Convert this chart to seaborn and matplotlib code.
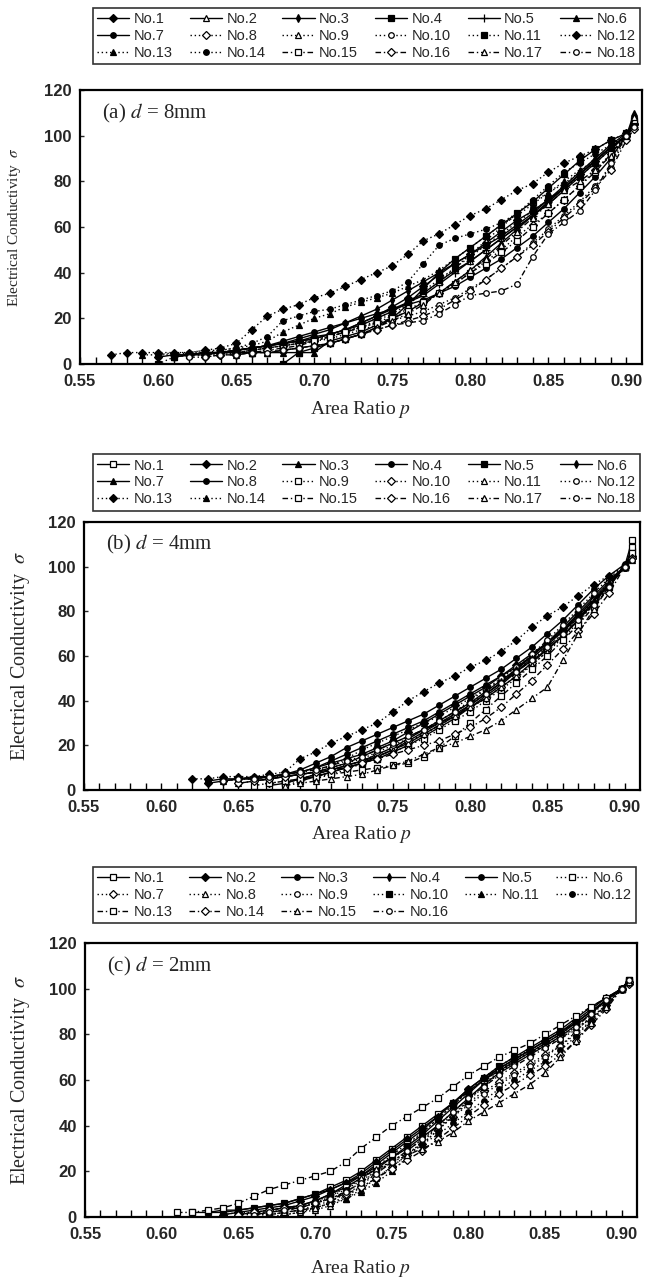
import matplotlib
matplotlib.use("Agg")
import matplotlib.pyplot as plt
import seaborn as sns
import pandas as pd
import numpy as np

sns.set_theme(style="white")
plt.rcParams["font.family"] = ["Liberation Sans Narrow", "Liberation Sans", "DejaVu Sans"]
plt.rcParams["mathtext.fontset"] = "stix"
SERIF = ["Liberation Serif", "DejaVu Serif"]

# ---- area ratio grids (x values) for each panel ----
p_a = [0.57, 0.58, 0.59, 0.60, 0.61, 0.62, 0.63, 0.64, 0.65, 0.66, 0.67, 0.68,
       0.69, 0.70, 0.71, 0.72, 0.73, 0.74, 0.75, 0.76, 0.77, 0.78, 0.79, 0.80,
       0.81, 0.82, 0.83, 0.84, 0.85, 0.86, 0.87, 0.88, 0.89, 0.90, 0.905]
p_b = p_a[5:]
p_c = p_a[4:]

# ---- (a) d = 8mm : conductivity, series end at p = 0.905 ----
a1 = [3, 4, 4, 5, 5, 6, 7, 8, 9, 10, 12, 13, 15, 18, 21, 25, 29, 34, 39, 44, 48, 53, 58, 63, 67, 72, 77, 83, 89, 95, 100, 105]
a2 = [3, 4, 4, 5, 6, 7, 8, 9, 10, 11, 13, 15, 17, 20, 23, 27, 31, 36, 41, 45, 50, 55, 60, 65, 70, 76, 82, 88, 94, 100, 106]
a3 = [3, 4, 5, 5, 6, 7, 8, 9, 11, 13, 15, 18, 21, 24, 28, 32, 36, 40, 44, 48, 52, 56, 61, 66, 72, 78, 84, 90, 96, 101, 104]
a4 = [0, 5, 7, 9, 11, 13, 16, 20, 26, 33, 40, 46, 51, 56, 61, 66, 71, 77, 83, 89, 94, 98, 101, 106]
a5 = [4, 4, 5, 5, 6, 7, 8, 9, 10, 11, 13, 15, 18, 21, 24, 27, 30, 35, 40, 45, 50, 55, 60, 65, 71, 77, 83, 89, 95, 100, 104]
a6 = [5, 5, 5, 5, 5, 5, 5, 10, 12, 14, 17, 20, 23, 27, 31, 36, 41, 47, 53, 59, 65, 71, 77, 83, 89, 95, 100, 110]
a7 = [4, 5, 5, 6, 7, 8, 10, 12, 14, 16, 18, 20, 22, 24, 26, 28, 31, 34, 38, 42, 46, 51, 56, 62, 68, 75, 82, 90, 100, 106]
a8 = [4, 4, 5, 6, 7, 8, 9, 10, 12, 14, 16, 18, 21, 24, 27, 31, 35, 40, 45, 50, 56, 61, 66, 72, 78, 85, 92, 100, 105]
a9 = [4, 4, 5, 5, 6, 7, 8, 9, 10, 12, 14, 16, 19, 22, 26, 31, 36, 42, 48, 54, 60, 66, 71, 75, 79, 84, 89, 95, 100, 104]
a10 = [5, 5, 6, 7, 8, 9, 10, 11, 13, 15, 17, 19, 21, 23, 26, 29, 33, 37, 42, 47, 53, 59, 65, 71, 78, 86, 100, 104]
a11 = [0, 3, 4, 4, 5, 5, 6, 7, 8, 9, 11, 12, 14, 17, 20, 23, 27, 32, 37, 42, 47, 52, 57, 62, 67, 72, 77, 82, 88, 94, 100, 105]
a12 = [4, 5, 5, 5, 5, 5, 6, 7, 9, 15, 21, 24, 26, 29, 31, 34, 37, 40, 43, 48, 54, 57, 61, 65, 68, 72, 76, 79, 84, 88, 91, 94, 98, 101, 105]
a13 = [4, 4, 5, 5, 6, 6, 7, 8, 10, 14, 17, 20, 22, 25, 27, 29, 31, 34, 37, 41, 46, 51, 56, 61, 65, 70, 75, 80, 85, 89, 94, 100, 104]
a14 = [4, 4, 5, 5, 6, 7, 9, 12, 19, 21, 23, 24, 26, 28, 30, 32, 36, 44, 52, 55, 57, 59, 62, 66, 72, 78, 84, 88, 92, 96, 100, 104]
a15 = [5, 6, 7, 8, 10, 12, 14, 16, 18, 20, 23, 27, 31, 35, 40, 44, 49, 54, 60, 66, 72, 78, 84, 92, 100, 107]
a16 = [3, 4, 4, 5, 6, 6, 7, 8, 9, 11, 13, 15, 17, 19, 21, 24, 28, 32, 37, 42, 47, 52, 58, 64, 70, 77, 85, 98, 103]
a17 = [4, 5, 5, 6, 7, 8, 9, 11, 13, 16, 19, 22, 26, 31, 36, 41, 46, 52, 58, 64, 70, 76, 80, 85, 91, 100, 108]
a18 = [3, 3, 4, 4, 5, 5, 6, 7, 8, 9, 11, 13, 15, 17, 18, 19, 22, 26, 30, 31, 32, 35, 47, 57, 62, 67, 76, 88, 100, 104]
sig_a = [a1, a2, a3, a4, a5, a6, a7, a8, a9, a10, a11, a12, a13, a14, a15, a16, a17, a18]

# ---- (b) d = 4mm ----
b1 = [2, 3, 5, 6, 8, 10, 12, 14, 17, 20, 24, 28, 32, 37, 42, 47, 53, 59, 65, 71, 78, 85, 92, 100, 112]
b2 = [3, 4, 5, 5, 6, 7, 8, 10, 12, 14, 16, 19, 22, 26, 30, 34, 38, 42, 46, 51, 56, 61, 66, 71, 77, 84, 92, 100, 105]
b3 = [3, 4, 5, 6, 7, 8, 10, 12, 15, 18, 21, 24, 27, 30, 33, 37, 41, 46, 51, 57, 63, 69, 76, 84, 92, 100, 104]
b4 = [4, 5, 5, 6, 7, 8, 10, 13, 16, 19, 22, 25, 28, 31, 35, 39, 43, 47, 51, 55, 60, 66, 72, 78, 85, 92, 100, 104]
b5 = [3, 5, 7, 9, 11, 13, 15, 18, 22, 26, 30, 34, 38, 43, 48, 54, 60, 66, 72, 79, 86, 93, 100, 107]
b6 = [4, 5, 6, 7, 8, 9, 11, 13, 16, 19, 23, 27, 31, 35, 39, 44, 49, 54, 60, 66, 73, 80, 87, 94, 100, 104]
b7 = [4, 6, 8, 10, 12, 15, 18, 21, 25, 29, 33, 38, 43, 48, 53, 58, 63, 69, 76, 84, 92, 100, 105]
b8 = [4, 5, 5, 6, 6, 7, 9, 12, 15, 19, 22, 25, 28, 31, 34, 38, 42, 46, 50, 54, 59, 64, 70, 76, 83, 90, 96, 101, 106]
b9 = [2, 4, 6, 8, 10, 12, 14, 17, 20, 23, 27, 31, 35, 40, 45, 50, 56, 62, 69, 76, 84, 92, 100, 109]
b10 = [3, 4, 5, 7, 9, 11, 13, 16, 19, 22, 25, 29, 33, 37, 41, 46, 51, 57, 63, 70, 77, 85, 93, 100, 104]
b11 = [5, 7, 9, 12, 15, 18, 21, 25, 29, 33, 37, 41, 46, 51, 56, 62, 68, 75, 83, 92, 100, 103]
b12 = [4, 5, 6, 7, 8, 10, 12, 14, 17, 20, 23, 27, 31, 35, 40, 45, 50, 55, 61, 67, 74, 81, 88, 95, 100, 105]
b13 = [5, 5, 6, 6, 6, 7, 8, 14, 17, 21, 24, 27, 30, 35, 40, 44, 48, 51, 55, 58, 62, 67, 73, 78, 82, 87, 92, 96, 100, 104]
b14 = [4, 5, 5, 6, 6, 7, 8, 11, 14, 18, 21, 24, 27, 30, 33, 37, 41, 45, 49, 54, 59, 65, 71, 78, 85, 93, 100, 104]
b15 = [2, 3, 4, 5, 6, 7, 8, 9, 10, 11, 12, 15, 19, 24, 30, 36, 42, 48, 54, 60, 67, 74, 82, 91, 100, 106]
b16 = [3, 4, 5, 6, 7, 8, 9, 10, 12, 14, 16, 18, 20, 22, 25, 28, 32, 37, 43, 49, 56, 63, 71, 79, 88, 100, 104]
b17 = [2, 3, 4, 5, 6, 7, 9, 11, 13, 16, 19, 21, 24, 27, 31, 36, 41, 46, 58, 70, 81, 91, 100, 104]
b18 = [4, 5, 5, 6, 7, 8, 9, 11, 13, 15, 18, 21, 24, 27, 31, 35, 39, 43, 48, 53, 58, 64, 70, 76, 83, 91, 100, 103]
sig_b = [b1, b2, b3, b4, b5, b6, b7, b8, b9, b10, b11, b12, b13, b14, b15, b16, b17, b18]

# ---- (c) d = 2mm ----
c1 = [2, 2, 3, 3, 4, 5, 6, 8, 10, 13, 16, 20, 25, 30, 35, 40, 45, 50, 55, 60, 64, 68, 72, 76, 80, 85, 90, 95, 100, 104]
c2 = [1, 2, 3, 4, 5, 7, 9, 12, 15, 19, 24, 29, 34, 39, 44, 50, 56, 61, 65, 69, 73, 77, 81, 86, 91, 96, 100, 103]
c3 = [1, 2, 3, 4, 5, 7, 10, 14, 18, 23, 28, 33, 38, 44, 50, 56, 61, 66, 70, 74, 78, 82, 87, 92, 96, 100, 104]
c4 = [1, 2, 3, 5, 7, 10, 13, 17, 21, 26, 31, 36, 42, 48, 54, 60, 65, 69, 73, 77, 81, 85, 90, 95, 100, 103]
c5 = [2, 2, 3, 4, 5, 6, 8, 10, 12, 15, 18, 22, 26, 30, 35, 40, 46, 52, 58, 63, 67, 71, 75, 79, 84, 89, 95, 100, 104]
c6 = [1, 1, 2, 3, 4, 6, 9, 13, 17, 22, 27, 32, 37, 43, 49, 55, 60, 64, 68, 72, 76, 80, 85, 90, 95, 100, 103]
c7 = [0, 1, 2, 4, 6, 9, 13, 17, 22, 27, 32, 38, 44, 50, 55, 59, 63, 67, 71, 75, 80, 86, 93, 100, 102]
c8 = [1, 2, 3, 5, 8, 12, 17, 22, 27, 33, 39, 45, 51, 57, 63, 68, 72, 75, 78, 82, 87, 93, 100, 104]
c9 = [1, 1, 2, 3, 5, 7, 10, 14, 19, 24, 29, 34, 39, 44, 49, 54, 58, 62, 66, 70, 75, 81, 88, 95, 100, 103]
c10 = [1, 2, 2, 3, 4, 6, 8, 11, 15, 20, 25, 31, 37, 43, 49, 55, 61, 66, 70, 73, 77, 81, 85, 90, 95, 100, 104]
c11 = [1, 2, 3, 4, 6, 8, 11, 15, 20, 26, 32, 38, 44, 51, 58, 64, 69, 72, 75, 79, 83, 87, 93, 100, 103]
c12 = [1, 2, 2, 3, 4, 5, 7, 9, 12, 16, 20, 24, 28, 32, 36, 41, 46, 51, 56, 60, 64, 68, 73, 79, 86, 93, 100, 103]
c13 = [2, 2, 3, 4, 6, 9, 12, 14, 16, 18, 20, 24, 30, 35, 40, 44, 48, 52, 57, 62, 66, 70, 73, 76, 80, 84, 88, 92, 96, 100, 103]
c14 = [1, 2, 3, 4, 5, 6, 8, 10, 13, 17, 21, 25, 29, 34, 39, 44, 49, 54, 58, 62, 66, 71, 77, 84, 91, 100, 103]
c15 = [1, 1, 2, 3, 4, 6, 12, 17, 21, 24, 27, 30, 33, 37, 42, 46, 50, 54, 58, 63, 70, 77, 85, 92, 100, 103]
c16 = [1, 2, 3, 4, 6, 8, 11, 15, 19, 24, 29, 34, 40, 46, 52, 57, 62, 66, 70, 74, 78, 83, 89, 95, 100, 104]
sig_c = [c1, c2, c3, c4, c5, c6, c7, c8, c9, c10, c11, c12, c13, c14, c15, c16]

# ---- line style, marker, filled ----
LS = {"s": "-", "d": (0, (1, 2)), "dd": (0, (4, 2, 1, 2))}
style_a = [("s", "D", 1), ("s", "^", 0), ("s", "d", 1), ("s", "s", 1), ("s", "+", 1), ("s", "^", 1),
           ("s", "o", 1), ("d", "D", 0), ("d", "^", 0), ("d", "o", 0), ("d", "s", 1), ("d", "D", 1),
           ("d", "^", 1), ("d", "o", 1), ("dd", "s", 0), ("dd", "D", 0), ("dd", "^", 0), ("dd", "o", 0)]
style_b = [("s", "s", 0), ("s", "D", 1), ("s", "^", 1), ("s", "o", 1), ("s", "s", 1), ("s", "d", 1),
           ("s", "^", 1), ("s", "o", 1), ("d", "s", 0), ("d", "D", 0), ("d", "^", 0), ("d", "o", 0),
           ("d", "D", 1), ("d", "^", 1), ("dd", "s", 0), ("dd", "D", 0), ("dd", "^", 0), ("dd", "o", 0)]
style_c = [("s", "s", 0), ("s", "D", 1), ("s", "o", 1), ("s", "d", 1), ("s", "o", 1), ("d", "s", 0),
           ("d", "D", 0), ("d", "^", 0), ("d", "o", 0), ("d", "s", 1), ("d", "^", 1), ("d", "o", 1),
           ("dd", "s", 0), ("dd", "D", 0), ("dd", "^", 0), ("dd", "o", 0)]

fig = plt.figure(figsize=(6.45, 12.81), dpi=100)
W, H = 645.0, 1281.0


def px_axes(l, t, r, b):
    return fig.add_axes([l / W, 1 - b / H, (r - l) / W, (b - t) / H])


def draw(ax, grid, series, styles, tag, ylab_size, ylab_x, xlab_y, leg_box):
    for i, (ys, (ls, mk, filled)) in enumerate(zip(series, styles)):
        df = pd.DataFrame({"p": grid[len(grid) - len(ys):], "sigma": ys})
        sns.lineplot(data=df, x="p", y="sigma", ax=ax, color="black", linestyle=LS[ls],
                     linewidth=1.0, marker=mk, markersize=4.0 if mk != "+" else 5.5,
                     markerfacecolor="black" if filled else "white", markeredgecolor="black",
                     markeredgewidth=0.9, label=f"No.{i + 1}", legend=False,
                     sort=False, estimator=None)
    ax.set_xlim(0.55, 0.91)
    ax.set_ylim(0, 120)
    ax.set_xticks([0.55, 0.60, 0.65, 0.70, 0.75, 0.80, 0.85, 0.90])
    ax.set_xticklabels(["0.55", "0.60", "0.65", "0.70", "0.75", "0.80", "0.85", "0.90"])
    ax.set_xticks(np.arange(0.55, 0.905, 0.01), minor=True)
    ax.set_yticks([0, 20, 40, 60, 80, 100, 120])
    ax.tick_params(axis="x", which="both", direction="in", length=5, width=1.0,
                   labelsize=12, pad=7, color="black", bottom=True)
    ax.tick_params(axis="y", direction="in", length=3, width=1.0, labelsize=12,
                   pad=6, left=True)
    for lab in ax.get_xticklabels() + ax.get_yticklabels():
        lab.set_fontweight("bold")
    for sp in ax.spines.values():
        sp.set_color("black")
        sp.set_linewidth(1.6)
    ax.set_xlabel("Area Ratio $p$", family=SERIF, fontsize=14)
    ax.set_ylabel("Electrical Conductivity  $\\sigma$", family=SERIF, fontsize=ylab_size)
    ax.xaxis.set_label_coords(0.5, xlab_y)
    ax.yaxis.set_label_coords(ylab_x, 0.5)
    ax.text(0.04, 0.915, tag, transform=ax.transAxes, family=SERIF, fontsize=15,
            va="center", ha="left")

    handles, labels = ax.get_legend_handles_labels()
    n = len(handles)
    order = [r * 6 + j for j in range(6) for r in range(3) if r * 6 + j < n]
    leg = fig.legend([handles[k] for k in order], [labels[k] for k in order], ncol=6,
                     loc="center", mode="expand", bbox_to_anchor=leg_box,
                     frameon=True, fancybox=False, edgecolor="black", fontsize=10.5,
                     handlelength=2.2, handletextpad=0.3, columnspacing=0.6,
                     labelspacing=0.2, borderpad=0.3, borderaxespad=0)
    leg.get_frame().set_linewidth(1.2)


ax_a = px_axes(80, 90, 642, 364)
ax_b = px_axes(84, 522, 640, 790)
ax_c = px_axes(85, 943, 637, 1217)

draw(ax_a, p_a, sig_a, style_a, "(a) $d$ = 8mm", 11, -0.102, -0.128,
     (93 / W, 1 - 68 / H, 547 / W, 64 / H))
draw(ax_b, p_b, sig_b, style_b, "(b) $d$ = 4mm", 14.5, -0.094, -0.128,
     (93 / W, 1 - 512 / H, 547 / W, 59 / H))
draw(ax_c, p_c, sig_c, style_c, "(c) $d$ = 2mm", 14.5, -0.096, -0.15,
     (93 / W, 1 - 928 / H, 543 / W, 66 / H))

fig.savefig("out.png", dpi=100)
